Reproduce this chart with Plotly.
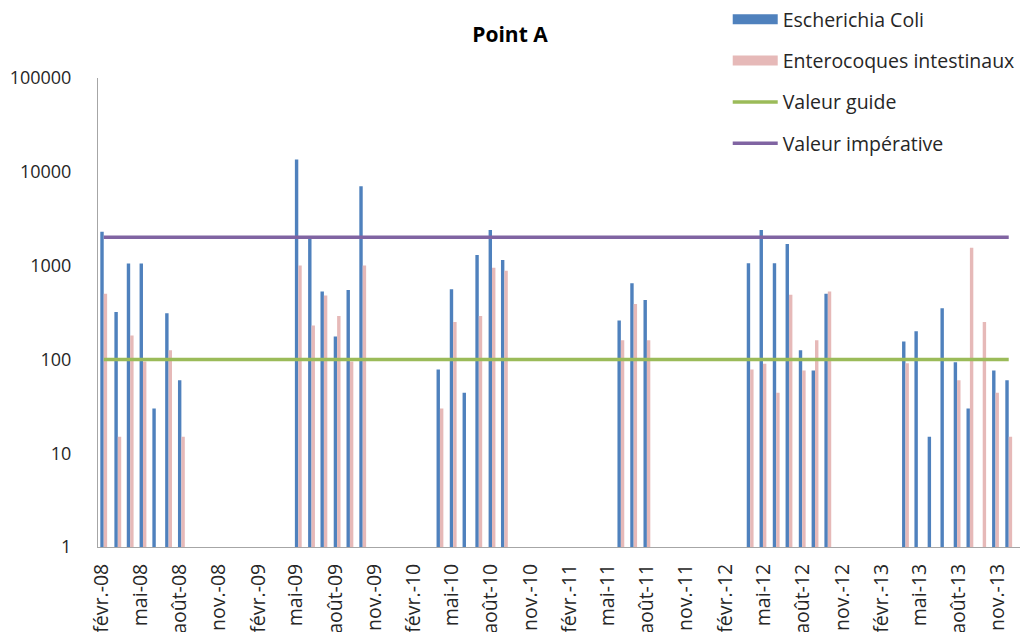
import plotly.graph_objects as go

# Sampling dates and bacteria counts (UFC/100 mL), Point A
sample_dates = [
    "2008-02-05", "2008-03-09", "2008-04-07", "2008-05-07", "2008-06-06", "2008-07-06", "2008-08-05",
    "2009-05-06", "2009-06-06", "2009-07-05", "2009-08-05", "2009-09-04", "2009-10-04",
    "2010-04-03", "2010-05-04", "2010-06-03", "2010-07-03", "2010-08-03", "2010-09-01",
    "2011-06-01", "2011-07-01", "2011-08-01",
    "2012-03-30", "2012-04-29", "2012-05-30", "2012-06-29", "2012-07-30", "2012-08-29", "2012-09-28",
    "2013-03-29", "2013-04-27", "2013-05-28", "2013-06-27", "2013-07-28", "2013-08-27",
    "2013-09-26", "2013-10-26", "2013-11-26",
]
escherichia_coli = [
    2300, 320, 1050, 1050, 30, 310, 60,
    13500, 1950, 530, 175, 550, 7000,
    78, 560, 44, 1300, 2400, 1150,
    260, 650, 430,
    1060, 2400, 1060, 1700, 125, 76, 500,
    155, 200, 15, 350, 93, 30,
    None, 76, 60,
]
enterocoques = [
    500, 15, 180, 95, None, 125, 15,
    1000, 230, 480, 290, 95, 1000,
    30, 250, None, 290, 950, 880,
    160, 390, 160,
    78, 90, 44, 490, 76, 160, 530,
    91, None, None, None, 60, 1550,
    250, 44, 15,
]
valeur_guide = 100
valeur_imperative = 2000

tick_dates = [
    "2008-02-01", "2008-05-01", "2008-08-01", "2008-11-01",
    "2009-02-01", "2009-05-01", "2009-08-01", "2009-11-01",
    "2010-02-01", "2010-05-01", "2010-08-01", "2010-11-01",
    "2011-02-01", "2011-05-01", "2011-08-01", "2011-11-01",
    "2012-02-01", "2012-05-01", "2012-08-01", "2012-11-01",
    "2013-02-01", "2013-05-01", "2013-08-01", "2013-11-01",
]
tick_labels = [
    "févr.-08", "mai-08", "août-08", "nov.-08",
    "févr.-09", "mai-09", "août-09", "nov.-09",
    "févr.-10", "mai-10", "août-10", "nov.-10",
    "févr.-11", "mai-11", "août-11", "nov.-11",
    "févr.-12", "mai-12", "août-12", "nov.-12",
    "févr.-13", "mai-13", "août-13", "nov.-13",
]

COLOR_EC = "#4F81BD"
COLOR_ENT = "#E6B9B8"
DAY_MS = 86400000
bar_w = 8 * DAY_MS
FONT = "'Open Sans', Lato, sans-serif"
TEXT = "#262626"

fig = go.Figure()
fig.add_trace(go.Bar(
    x=sample_dates, y=escherichia_coli, name="Escherichia Coli",
    width=bar_w, offset=-bar_w, marker=dict(color=COLOR_EC, line=dict(width=0)),
    showlegend=False,
))
fig.add_trace(go.Bar(
    x=sample_dates, y=enterocoques, name="Enterocoques intestinaux",
    width=bar_w, offset=0, marker=dict(color=COLOR_ENT, line=dict(width=0)),
    showlegend=False,
))
# wide swatch legend entries for the two bar series
fig.add_trace(go.Scatter(
    x=[None], y=[None], name="Escherichia Coli", mode="lines",
    line=dict(color=COLOR_EC, width=10), legendgroup="a", hoverinfo="skip",
))
fig.add_trace(go.Scatter(
    x=[None], y=[None], name="Enterocoques intestinaux", mode="lines",
    line=dict(color=COLOR_ENT, width=10), legendgroup="b", hoverinfo="skip",
))
fig.add_trace(go.Scatter(
    x=sample_dates, y=[valeur_guide] * len(sample_dates), name="Valeur guide",
    mode="lines", line=dict(color="#9BBB59", width=3.5), legendgroup="c",
))
fig.add_trace(go.Scatter(
    x=sample_dates, y=[valeur_imperative] * len(sample_dates), name="Valeur impérative",
    mode="lines", line=dict(color="#8064A2", width=3.5), legendgroup="d",
))

fig.update_layout(
    width=1020, height=632,
    margin=dict(l=98, r=0, t=78, b=85),
    paper_bgcolor="white", plot_bgcolor="white",
    barmode="overlay",
    font=dict(family=FONT, size=18, color=TEXT),
    title=dict(text="<b>Point A</b>", x=0.5, xanchor="center", xref="container",
               y=1 - 35 / 632, yanchor="middle", yref="container",
               font=dict(size=21, color="#000000")),
    showlegend=True,
    legend=dict(
        x=0.683, y=1.167, xanchor="left", yanchor="top",
        bgcolor="rgba(0,0,0,0)", font=dict(size=19.5, color=TEXT),
        traceorder="grouped", tracegroupgap=13, itemwidth=45,
    ),
    xaxis=dict(
        type="date",
        range=["2008-01-22 14:00", "2013-12-22 10:00"],
        tickmode="array", tickvals=tick_dates, ticktext=tick_labels,
        tickangle=-90, tickfont=dict(size=19.5, color=TEXT),
        showline=True, linecolor="#A6A6A6", linewidth=1,
        showgrid=False, zeroline=False, ticks="", automargin=False,
        ticklabelstandoff=8,
    ),
    yaxis=dict(
        type="log", range=[0, 5],
        tickmode="array", tickvals=[1, 10, 100, 1000, 10000, 100000],
        ticktext=["1", "10", "100", "1000", "10000", "100000"],
        tickfont=dict(size=18, color=TEXT),
        showline=True, linecolor="#A6A6A6", linewidth=1,
        showgrid=False, zeroline=False, ticks="", ticklabelstandoff=22,
        automargin=False,
    ),
)

fig.write_html("out.html")
